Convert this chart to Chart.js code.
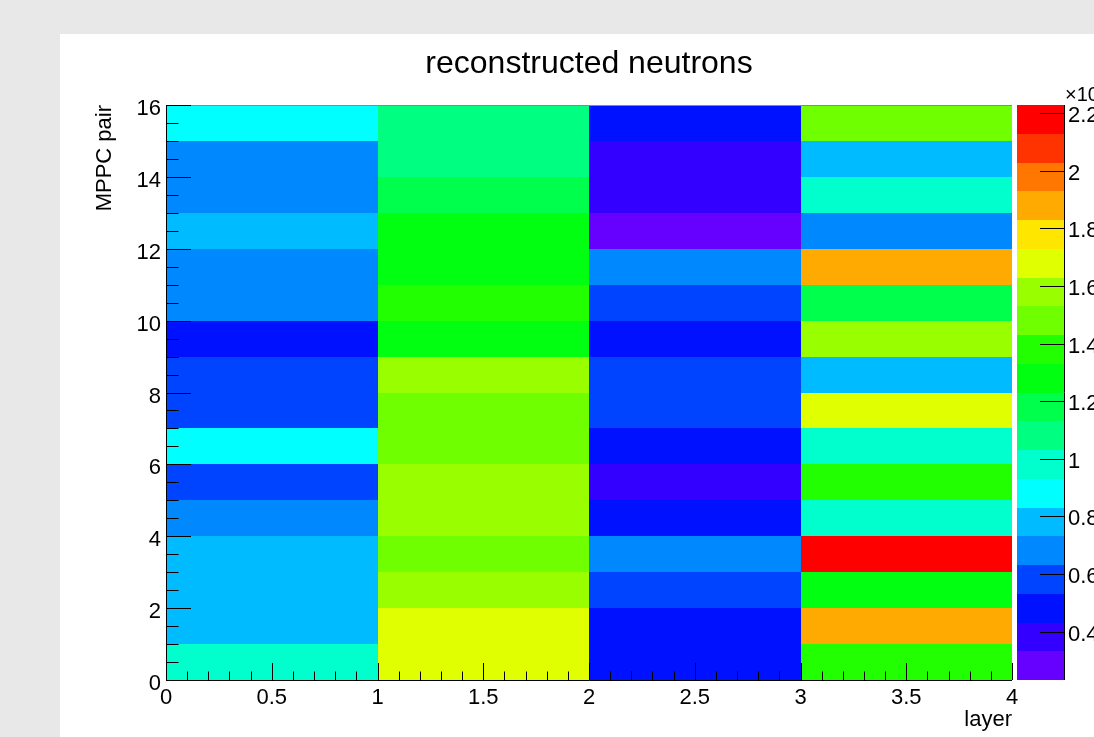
<!DOCTYPE html>
<html>
<head>
<meta charset="utf-8">
<script src="https://cdn.jsdelivr.net/npm/chart.js@4"></script>
<style>
  html, body { margin: 0; padding: 0; background: #e8e8e8; }
  #wrap { position: absolute; left: 0; top: 0; width: 1094px; height: 737px; }
</style>
</head>
<body>
<div id="wrap"><canvas id="heat" width="1094" height="737"></canvas></div>
<script>
// --- data: neutron counts per MPPC pair (rows 0..15, bottom to top) ---
const layers = [0, 1, 2, 3];
const layer0 = [975, 772, 790, 768, 702, 590, 893, 566, 603, 467, 655, 694, 758, 671, 707, 905];
const layer1 = [1664, 1702, 1571, 1463, 1590, 1560, 1492, 1455, 1604, 1266, 1392, 1301, 1258, 1187, 1095, 1070];
const layer2 = [488, 470, 575, 688, 495, 371, 476, 592, 570, 459, 598, 665, 232, 388, 362, 502];
const layer3 = [1376, 1885, 1289, 2228, 990, 1361, 968, 1690, 784, 1566, 1203, 1861, 676, 1002, 760, 1497];
const columns = [layer0, layer1, layer2, layer3];

// colour bar tick values (labels shown x10^3)
const zTicks = [400, 600, 800, 1000, 1200, 1400, 1600, 1800, 2000, 2200];

// colour palette, lowest to highest contour
const palette = ["#6600ff", "#3300ff", "#0011ff", "#0044ff", "#0088ff", "#00bbff", "#00ffff",
  "#00ffcc", "#00ff80", "#00ff4d", "#00ff11", "#22ff00", "#6fff00", "#99ff00", "#e0ff00",
  "#ffe600", "#ffaa00", "#ff7700", "#ff3300", "#ff0000"];

const allValues = columns.flat();
const zMin = Math.min(...allValues);
const zMax = Math.max(...allValues);
const zStep = (zMax - zMin) / palette.length;

const FONT = "'Liberation Sans', Arial, Helvetica, sans-serif";
Chart.defaults.color = "#000";
Chart.defaults.font.family = FONT;

function colorFor(v) {
  let i = Math.floor((v - zMin) / zStep);
  if (i < 0) i = 0;
  if (i > palette.length - 1) i = palette.length - 1;
  return palette[i];
}

const fmt = v => String(+Number(v).toFixed(1));

// draws background, cells, colour bar and ROOT style inward ticks
const heatPlugin = {
  id: "heat",
  beforeDraw(chart) {
    const c = chart.ctx;
    c.save();
    c.fillStyle = "#e8e8e8";
    c.fillRect(0, 0, chart.width, chart.height);
    c.fillStyle = "#fff";
    c.fillRect(60, 34, chart.width - 60, chart.height - 34);
    c.restore();
  },
  beforeDatasetsDraw(chart) {
    const c = chart.ctx;
    const xs = chart.scales.x, ys = chart.scales.y, zs = chart.scales.z;
    c.save();
    chart.data.datasets.forEach(ds => {
      ds.data.forEach(p => {
        const x0 = Math.round(xs.getPixelForValue(p.x - 0.5));
        const x1 = Math.round(xs.getPixelForValue(p.x + 0.5));
        const y0 = Math.round(ys.getPixelForValue(p.y + 0.5));
        const y1 = Math.round(ys.getPixelForValue(p.y - 0.5));
        c.fillStyle = colorFor(p.v);
        c.fillRect(x0, y0, x1 - x0, y1 - y0);
      });
    });
    // colour bar
    const bx0 = zs.left + 5, bx1 = zs.left + 52;
    palette.forEach((col, k) => {
      const yt = Math.round(zs.getPixelForValue(zMin + (k + 1) * zStep));
      const yb = Math.round(zs.getPixelForValue(zMin + k * zStep));
      c.fillStyle = col;
      c.fillRect(bx0, yt, bx1 - bx0, yb - yt);
    });
    c.restore();
  },
  afterDatasetsDraw(chart) {
    const c = chart.ctx;
    const xs = chart.scales.x, ys = chart.scales.y, zs = chart.scales.z;
    const a = chart.chartArea;
    c.save();
    c.lineWidth = 1;
    // frame
    c.strokeStyle = "#888";
    c.beginPath();
    c.moveTo(a.left, a.top + 0.5); c.lineTo(a.right, a.top + 0.5);
    c.stroke();
    c.strokeStyle = "#000";
    c.beginPath();
    c.moveTo(a.left + 0.5, a.top); c.lineTo(a.left + 0.5, a.bottom + 0.5);
    c.lineTo(a.right, a.bottom + 0.5);
    c.stroke();
    // y ticks
    c.beginPath();
    for (let k = 0; k <= 32; k++) {
      const y = Math.round(ys.getPixelForValue(k * 0.5)) + 0.5;
      const len = k % 4 === 0 ? 25 : 12.5;
      c.moveTo(a.left, y); c.lineTo(a.left + len, y);
    }
    // x ticks
    for (let k = 0; k <= 40; k++) {
      const x = Math.round(xs.getPixelForValue(k / 10)) + 0.5;
      const len = k % 5 === 0 ? 17 : 8.5;
      c.moveTo(x, a.bottom); c.lineTo(x, a.bottom - len);
    }
    // colour bar axis
    const bx1 = zs.left + 52;
    c.moveTo(bx1 + 0.5, zs.top); c.lineTo(bx1 + 0.5, zs.bottom);
    zs.ticks.forEach(t => {
      const y = Math.round(zs.getPixelForValue(t.value)) + 0.5;
      c.moveTo(bx1 - 24, y); c.lineTo(bx1, y);
    });
    c.stroke();
    // exponent label
    c.fillStyle = "#000";
    c.textBaseline = "alphabetic";
    c.font = "20px " + FONT;
    c.fillText("\u00d710", bx1 + 1, 101);
    const w = c.measureText("\u00d710").width;
    c.font = "14px " + FONT;
    c.fillText("3", bx1 + 1 + w, 92);
    c.restore();
  }
};

const tickFont = { size: 22 };

new Chart(document.getElementById("heat"), {
  type: "scatter",
  data: {
    datasets: layers.map((l, i) => ({
      label: "layer " + l,
      data: columns[i].map((v, r) => ({ x: l + 0.5, y: r + 0.5, v: v })),
      pointRadius: 0,
      pointHoverRadius: 0
    }))
  },
  options: {
    responsive: false,
    animation: false,
    layout: { padding: 0 },
    plugins: {
      legend: { display: false },
      tooltip: { enabled: false },
      title: {
        display: true,
        text: "reconstructed neutrons",
        fullSize: false,
        font: { size: 32, weight: "normal" },
        padding: { top: 45, bottom: 21.6 }
      }
    },
    scales: {
      x: {
        type: "linear", min: 0, max: 4,
        grid: { display: false, drawTicks: false },
        border: { display: false },
        ticks: { stepSize: 0.5, padding: 5, font: tickFont, callback: fmt },
        title: { display: true, text: "layer", align: "end", font: { size: 22 }, padding: { top: 0, bottom: 4 } },
        afterFit: s => { s.height = 57; }
      },
      y: {
        type: "linear", min: 0, max: 16,
        grid: { display: false, drawTicks: false },
        border: { display: false },
        ticks: { stepSize: 2, padding: 5, labelOffset: 4, font: tickFont, callback: fmt },
        title: { display: true, text: "MPPC pair", align: "end", font: { size: 22 }, padding: { top: 92, bottom: 0 } },
        afterFit: s => { s.width = 166; }
      },
      z: {
        type: "linear", axis: "y", position: "right",
        min: zMin, max: zMax,
        // grid hidden; tickLength only pushes the labels past the colour bar
        grid: { display: false, drawTicks: true, tickLength: 56 },
        border: { display: false },
        afterBuildTicks: s => { s.ticks = zTicks.map(v => ({ value: v })); },
        ticks: { padding: 0, labelOffset: 3, font: tickFont, callback: v => fmt(v / 1000) },
        afterFit: s => { s.width = 82; }
      }
    }
  },
  plugins: [heatPlugin]
});
</script>
</body>
</html>
